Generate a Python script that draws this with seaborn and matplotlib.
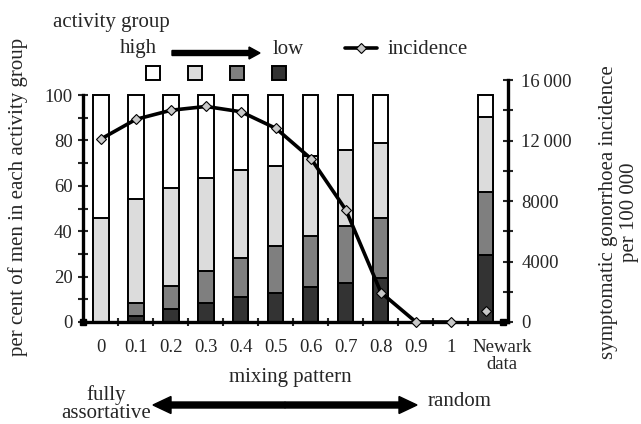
import numpy as np
import pandas as pd
import matplotlib
matplotlib.use("Agg")
import matplotlib.pyplot as plt
from matplotlib.patches import Rectangle, FancyArrow
from matplotlib.lines import Line2D
from matplotlib.transforms import IdentityTransform, ScaledTranslation
import seaborn as sns

# categories on the x axis
mix_labels = ["0", "0.1", "0.2", "0.3", "0.4", "0.5", "0.6", "0.7", "0.8", "0.9", "1", "Newark\ndata"]
# categories that have a bar (0.9 and 1 have none)
bar_labels = ["0", "0.1", "0.2", "0.3", "0.4", "0.5", "0.6", "0.7", "0.8", "Newark\ndata"]

# per cent of men in each activity group (low -> high)
low_pct = [0, 2.5, 5.6, 8.4, 10.9, 12.7, 15.5, 17.4, 19.5, 29.4]
midlow_pct = [0, 5.9, 10.2, 13.9, 17.3, 20.7, 22.5, 24.8, 26.5, 27.8]
midhigh_pct = [46.0, 45.6, 43.2, 41.2, 38.8, 35.4, 35.3, 33.7, 32.9, 32.9]
high_pct = [100 - a - b - c for a, b, c in zip(low_pct, midlow_pct, midhigh_pct)]

# symptomatic gonorrhoea incidence per 100 000 (model, 0 .. 1) and Newark data
incidence = [12100, 13400, 14000, 14250, 13900, 12800, 10800, 7400, 1950, 0, 0]
newark_incidence = 750

grey_cols = ["white", "#dcdcdc", "#7f7f7f", "#333333"]  # high -> low

sns.set_theme(style="white")
plt.rcParams["font.family"] = ["Liberation Serif", "DejaVu Serif"]
FS = 15
TFS = 13.5

W, H = 641, 424
fig = plt.figure(figsize=(W / 100, H / 100), dpi=100)
ax = fig.add_axes([83 / W, 1 - 322 / H, (508 - 83) / W, (322 - 80) / H])

df = pd.DataFrame({"mixing": bar_labels, "low": low_pct, "midlow": midlow_pct,
                   "midhigh": midhigh_pct, "high": high_pct})
df["c_low"] = df["low"]
df["c_midlow"] = df["c_low"] + df["midlow"]
df["c_midhigh"] = df["c_midlow"] + df["midhigh"]
df["c_high"] = df["c_midhigh"] + df["high"]

for col, c in zip(["c_high", "c_midhigh", "c_midlow", "c_low"], grey_cols):
    sns.barplot(data=df, x="mixing", y=col, order=mix_labels, color=c, saturation=1,
                edgecolor="black", linewidth=1.4, width=0.43, errorbar=None, ax=ax)

ax.set_xlim(-0.514, 11.63)
ax.set_ylim(0, 100 * 242 / 227)
ax.set_yticks(range(0, 101, 20))
ax.set_yticks(range(10, 100, 20), minor=True)
ax.set_xticks(range(len(mix_labels)))
ax.set_xticklabels(mix_labels, fontsize=TFS, va="top", linespacing=1.05)
ax.set_xticks(np.arange(0.5, len(mix_labels) - 0.5, 1), minor=True)
ax.tick_params(axis="x", which="major", length=0, pad=12)
ax.tick_params(axis="x", which="minor", direction="inout", length=6, width=1.5, bottom=True)
ax.tick_params(axis="y", which="both", direction="inout", length=7, width=1.5, left=True,
               labelsize=TFS, pad=4)
# the Newark label sits a little right of its bar
newark_lab = ax.get_xticklabels()[-1]
newark_lab.set_transform(newark_lab.get_transform() + ScaledTranslation(0.16, 0, fig.dpi_scale_trans))
for s in ["top", "right"]:
    ax.spines[s].set_visible(False)
ax.spines["left"].set_bounds(0, 100)
for s in ["left", "bottom"]:
    ax.spines[s].set_linewidth(2.4)
    ax.spines[s].set_color("black")
ax.set_ylabel("")
ax.set_xlabel("mixing pattern", fontsize=FS)
ax.xaxis.set_label_coords(0.487, -0.19)

# incidence line on the right axis
ax2 = ax.twinx()
pos = np.arange(len(incidence))
sns.lineplot(x=pos, y=incidence, ax=ax2, color="black", lw=2.6, marker="D", markersize=5,
             markerfacecolor="#c8c8c8", markeredgecolor="black", markeredgewidth=0.8,
             clip_on=False, zorder=5)
ax2.plot([len(mix_labels) - 1], [newark_incidence], ls="none", marker="D", markersize=5,
         markerfacecolor="#c8c8c8", markeredgecolor="black", markeredgewidth=0.8, zorder=5)
ax2.set_ylim(0, 16000)
ax2.set_yticks(range(0, 16001, 4000))
ax2.set_yticklabels(["0", "4000", "8000", "12\u2009000", "16\u2009000"])
ax2.set_yticks(range(2000, 16000, 4000), minor=True)
ax2.tick_params(axis="y", which="both", direction="inout", length=7, width=1.5, right=True,
                labelsize=TFS, pad=6)
for s in ["top", "left", "bottom"]:
    ax2.spines[s].set_visible(False)
ax2.spines["right"].set_linewidth(2.4)
ax2.spines["right"].set_color("black")
ax2.set_ylabel("")
ax2.set_xlim(-0.514, 11.63)


def fy(y):
    return H - y


ident = IdentityTransform()

# axis titles
fig.text(18 / W, 1 - 197 / H, "per cent of men in each activity group", fontsize=FS,
         rotation=90, ha="center", va="center")
fig.text(619 / W, 1 - 212 / H, "symptomatic gonorrhoea incidence\nper 100 000", fontsize=FS,
         rotation=90, ha="center", va="center", multialignment="center", linespacing=1.15)

# corner squares on the x axis
for x in [83, 503]:
    fig.patches.append(Rectangle((x - 3, fy(322) - 3), 6, 6, color="black", transform=ident))

# legend for activity groups
fig.text(53 / W, 1 - 22 / H, "activity group", fontsize=FS, va="center", ha="left")
fig.text(120 / W, 1 - 49 / H, "high", fontsize=FS, va="center", ha="left")
fig.text(273 / W, 1 - 49 / H, "low", fontsize=FS, va="center", ha="left")
fig.patches.append(FancyArrow(172, fy(53), 88, 0, width=5, head_width=12, head_length=11,
                              length_includes_head=True, color="black", transform=ident))
for cx, c in zip([153, 195, 237, 279], grey_cols):
    fig.patches.append(Rectangle((cx - 7, fy(80)), 14, 14, facecolor=c, edgecolor="black",
                                 lw=1.4, transform=ident))

# legend for incidence
fig.lines.append(Line2D([345, 377], [fy(48), fy(48)], color="black", lw=2.6, transform=ident))
fig.lines.append(Line2D([361], [fy(48)], ls="none", marker="D", markersize=5,
                        markerfacecolor="#c8c8c8", markeredgecolor="black",
                        markeredgewidth=0.8, transform=ident))
fig.text(388 / W, 1 - 49 / H, "incidence", fontsize=FS, va="center", ha="left")

# bottom arrow: fully assortative <-> random
mid = (153 + 417) / 2
for dx in [153 - mid, 417 - mid]:
    fig.patches.append(FancyArrow(mid, fy(405), dx, 0, width=6, head_width=17, head_length=18,
                                  length_includes_head=True, color="black", transform=ident))
fig.text(106 / W, 1 - 404 / H, "fully\nassortative", fontsize=FS, va="center", ha="center",
         linespacing=0.95)
fig.text(428 / W, 1 - 402 / H, "random", fontsize=FS, va="center", ha="left")

fig.savefig("out.png", dpi=100)
